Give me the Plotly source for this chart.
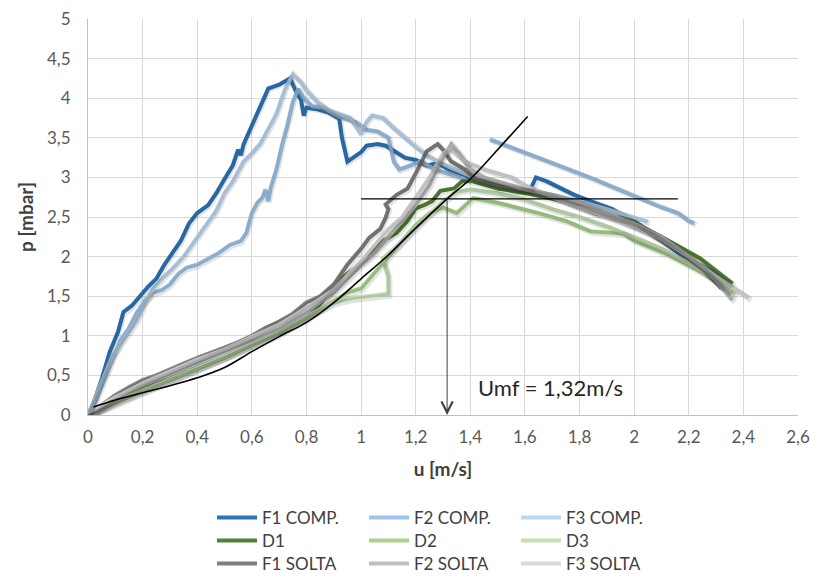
import plotly.graph_objects as go

# ---------------- data ----------------
f1c_x = [0, 0.02, 0.05, 0.08, 0.11, 0.13, 0.16, 0.19, 0.22, 0.25, 0.28, 0.31, 0.34, 0.37, 0.40, 0.44, 0.47, 0.50,
         0.53, 0.55, 0.56, 0.57, 0.60, 0.63, 0.66, 0.70, 0.74, 0.76, 0.78, 0.79, 0.80, 0.84, 0.88, 0.92, 0.93, 0.95,
         0.97, 1.00, 1.02, 1.06, 1.09, 1.13, 1.16, 1.20, 1.24, 1.28, 1.32, 1.36, 1.42, 1.50, 1.57, 1.62, 1.64, 1.68,
         1.72, 1.78, 1.84, 1.88, 1.92, 1.96, 2.00, 2.06, 2.12, 2.18, 2.24, 2.30, 2.35]
f1c_y = [0, 0.15, 0.45, 0.80, 1.05, 1.30, 1.38, 1.50, 1.62, 1.72, 1.90, 2.05, 2.20, 2.42, 2.55, 2.65, 2.80, 2.98,
         3.15, 3.35, 3.28, 3.42, 3.65, 3.90, 4.12, 4.17, 4.25, 4.10, 3.98, 3.78, 3.88, 3.86, 3.82, 3.74, 3.50, 3.20,
         3.25, 3.32, 3.40, 3.42, 3.40, 3.32, 3.25, 3.22, 3.15, 3.18, 3.10, 3.05, 2.96, 2.90, 2.83, 2.85, 3.00, 2.95,
         2.88, 2.78, 2.70, 2.65, 2.60, 2.52, 2.45, 2.30, 2.15, 2.00, 1.90, 1.78, 1.65]

f2c_x = [0, 0.03, 0.06, 0.09, 0.12, 0.15, 0.18, 0.21, 0.24, 0.27, 0.30, 0.33, 0.36, 0.40, 0.44, 0.48, 0.52, 0.56,
         0.58, 0.60, 0.62, 0.64, 0.65, 0.66, 0.67, 0.69, 0.71, 0.73, 0.75, 0.77, 0.79, 0.82, 0.86, 0.90, 0.94, 0.98,
         1.02, 1.06, 1.10, 1.12, 1.14, 1.18, 1.22, 1.27, 1.32, 1.38, None,
         1.47, 1.55, 1.70, 1.85, 2.00, 2.10, 2.16, 2.20, 2.22]
f2c_y = [0, 0.20, 0.45, 0.70, 0.95, 1.10, 1.30, 1.45, 1.55, 1.58, 1.65, 1.78, 1.86, 1.90, 1.97, 2.05, 2.15, 2.20,
         2.30, 2.55, 2.68, 2.75, 2.85, 2.70, 2.88, 3.10, 3.40, 3.65, 3.95, 4.12, 4.00, 3.90, 3.88, 3.80, 3.74, 3.70,
         3.60, 3.58, 3.50, 3.20, 3.10, 3.15, 3.20, 3.10, 3.05, 2.98, None,
         3.48, 3.38, 3.18, 2.98, 2.77, 2.62, 2.55, 2.45, 2.42]

f3c_x = [0, 0.03, 0.06, 0.09, 0.12, 0.15, 0.18, 0.21, 0.24, 0.27, 0.31, 0.35, 0.39, 0.43, 0.47, 0.50, 0.53, 0.57,
         0.60, 0.63, 0.66, 0.69, 0.72, 0.75, 0.78, 0.80, 0.84, 0.88, 0.92, 0.96, 1.00, 1.02, 1.04, 1.08, 1.12, 1.16,
         1.20, 1.24, 1.28, 1.33, 1.40, 1.50, 1.60, 1.70, 1.80, 1.90, 2.00, 2.05]
f3c_y = [0, 0.25, 0.50, 0.75, 0.90, 1.05, 1.20, 1.42, 1.60, 1.72, 1.85, 2.00, 2.20, 2.40, 2.58, 2.80, 2.95, 3.20,
         3.30, 3.42, 3.60, 3.80, 4.10, 4.30, 4.20, 4.10, 3.95, 3.85, 3.80, 3.75, 3.55, 3.70, 3.78, 3.75, 3.62, 3.50,
         3.38, 3.28, 3.20, 3.12, 3.02, 2.92, 2.84, 2.78, 2.70, 2.60, 2.50, 2.44]

d1_x = [0, 0.05, 0.10, 0.20, 0.30, 0.40, 0.50, 0.60, 0.70, 0.80, 0.85, 0.93, 1.02, 1.08, 1.13, 1.17, 1.20, 1.23,
        1.26, 1.29, 1.34, 1.37, 1.41, 1.50, 1.62, 1.74, 1.86, 1.99, 2.10, 2.24, 2.36]
d1_y = [0, 0.10, 0.18, 0.33, 0.46, 0.60, 0.74, 0.90, 1.05, 1.25, 1.40, 1.73, 1.98, 2.20, 2.30, 2.45, 2.61, 2.65,
        2.70, 2.83, 2.86, 2.95, 2.95, 2.86, 2.79, 2.70, 2.54, 2.45, 2.25, 1.98, 1.66]

d2_x = [0, 0.05, 0.10, 0.20, 0.30, 0.40, 0.50, 0.60, 0.70, 0.80, 0.90, 0.95, 1.00, 1.05, 1.10, 1.15, 1.20, 1.25,
        1.30, 1.35, 1.41, 1.50, 1.60, 1.66, 1.75, 1.84, 1.96, 2.00, 2.12, 2.25, 2.35]
d2_y = [0, 0.08, 0.16, 0.30, 0.44, 0.58, 0.72, 0.88, 1.03, 1.22, 1.45, 1.55, 1.60, 1.80, 2.00, 2.20, 2.40, 2.55,
        2.62, 2.55, 2.74, 2.68, 2.60, 2.54, 2.45, 2.32, 2.29, 2.20, 2.03, 1.80, 1.55]

d3_x = [0, 0.05, 0.10, 0.20, 0.30, 0.40, 0.50, 0.60, 0.70, 0.80, 0.90, 0.97, 1.03, 1.10, 1.10, 1.08, 1.12, 1.18,
        1.24, 1.30, 1.35, 1.40, 1.50, 1.60, 1.70, 1.80, 1.90, 2.00, 2.10, 2.20, 2.30, 2.37]
d3_y = [0, 0.09, 0.17, 0.31, 0.45, 0.60, 0.74, 0.90, 1.06, 1.25, 1.42, 1.48, 1.50, 1.53, 1.75, 1.98, 2.10, 2.30,
        2.50, 2.70, 2.82, 2.85, 2.80, 2.72, 2.60, 2.50, 2.38, 2.25, 2.10, 1.92, 1.70, 1.52]

f1s_x = [0, 0.05, 0.10, 0.15, 0.20, 0.25, 0.30, 0.35, 0.40, 0.45, 0.50, 0.55, 0.60, 0.65, 0.70, 0.75, 0.80, 0.85,
         0.90, 0.95, 1.00, 1.03, 1.07, 1.09, 1.10, 1.09, 1.13, 1.17, 1.20, 1.24, 1.28, 1.30, 1.33, 1.38, 1.42, 1.50,
         1.62, 1.74, 1.86, 1.95, 2.05, 2.15, 2.25, 2.32]
f1s_y = [0, 0.12, 0.25, 0.35, 0.44, 0.50, 0.58, 0.65, 0.72, 0.78, 0.85, 0.92, 1.00, 1.10, 1.18, 1.28, 1.42, 1.50,
         1.65, 1.90, 2.10, 2.24, 2.35, 2.49, 2.60, 2.66, 2.78, 2.86, 3.05, 3.33, 3.42, 3.35, 3.20, 3.10, 2.98, 2.90,
         2.83, 2.70, 2.58, 2.45, 2.30, 2.10, 1.85, 1.60]

f2s_x = [0, 0.05, 0.10, 0.15, 0.20, 0.30, 0.40, 0.50, 0.60, 0.70, 0.80, 0.90, 0.95, 1.00, 1.05, 1.10, 1.15, 1.20,
         1.25, 1.29, 1.33, 1.36, 1.40, 1.45, 1.50, 1.60, 1.70, 1.80, 1.90, 2.00, 2.10, 2.20, 2.30, 2.36]
f2s_y = [0, 0.10, 0.20, 0.30, 0.38, 0.52, 0.66, 0.80, 0.95, 1.10, 1.30, 1.55, 1.72, 1.90, 2.05, 2.25, 2.45, 2.65,
         2.90, 3.20, 3.42, 3.30, 3.10, 3.00, 2.95, 2.85, 2.78, 2.68, 2.55, 2.42, 2.25, 2.00, 1.70, 1.45]

f3s_x = [0, 0.05, 0.10, 0.20, 0.30, 0.40, 0.50, 0.60, 0.70, 0.80, 0.90, 1.00, 1.05, 1.10, 1.15, 1.20, 1.25, 1.30,
         1.33, 1.38, 1.45, 1.50, 1.55, 1.60, 1.70, 1.80, 1.90, 2.00, 2.10, 2.20, 2.30, 2.42]
f3s_y = [0, 0.12, 0.22, 0.40, 0.55, 0.70, 0.83, 0.98, 1.14, 1.35, 1.58, 1.95, 2.15, 2.35, 2.50, 2.75, 3.00, 3.30,
         3.35, 3.20, 3.10, 3.05, 3.00, 2.90, 2.75, 2.62, 2.50, 2.38, 2.22, 2.00, 1.75, 1.48]

fit_x = [0.02, 0.10, 0.20, 0.30, 0.40, 0.50, 0.60, 0.70, 0.80, 0.90, 1.00, 1.10, 1.20, 1.315, 1.40, 1.50, 1.61]
fit_y = [0.10, 0.19, 0.28, 0.37, 0.47, 0.60, 0.80, 0.99, 1.17, 1.42, 1.72, 2.02, 2.36, 2.73, 2.98, 3.35, 3.77]

umf = 1.315
p_mf = 2.73
hline_x = [1.0, 2.16]
umf_label = "Umf = 1,32m/s"

series = [
    ("F1 COMP.", f1c_x, f1c_y, "#2E75B6", "legend"),
    ("F2 COMP.", f2c_x, f2c_y, "#9DC3E6", "legend"),
    ("F3 COMP.", f3c_x, f3c_y, "#BDD7EE", "legend"),
    ("D1", d1_x, d1_y, "#548235", "legend2"),
    ("D2", d2_x, d2_y, "#A9D18E", "legend2"),
    ("D3", d3_x, d3_y, "#C5E0B4", "legend2"),
    ("F1 SOLTA", f1s_x, f1s_y, "#7F7F7F", "legend3"),
    ("F2 SOLTA", f2s_x, f2s_y, "#BFBFBF", "legend3"),
    ("F3 SOLTA", f3s_x, f3s_y, "#D9D9D9", "legend3"),
]

x_ticks = [0, 0.2, 0.4, 0.6, 0.8, 1, 1.2, 1.4, 1.6, 1.8, 2, 2.2, 2.4, 2.6]
y_ticks = [0, 0.5, 1, 1.5, 2, 2.5, 3, 3.5, 4, 4.5, 5]

# ---------------- figure ----------------
# the page body adds an 8px offset, so figure coordinates = window coordinates - 8
W, H = 821, 588
ML, MR, MT, MB = 80, 31, 11, 181
PW, PH = W - ML - MR, H - MT - MB
BOTTOM = H - MB   # figure y of the x axis
dx = 2.5 / PW     # shadow offset (fraction of plot)
dy = 3.0 / PH
XMAX, YMAX = 2.6, 5.0

fig = go.Figure()

# shadows (drawn on offset overlay axes)
for name, xs, ys, col, lg in series:
    fig.add_trace(go.Scatter(x=xs, y=ys, mode="lines", xaxis="x2", yaxis="y2",
                             line=dict(color="rgba(0,0,0,0.11)", width=6),
                             showlegend=False, hoverinfo="skip", connectgaps=False))

for name, xs, ys, col, lg in series:
    fig.add_trace(go.Scatter(x=xs, y=ys, mode="lines", name=name, legend=lg,
                             line=dict(color=col, width=4), connectgaps=False))

fig.add_trace(go.Scatter(x=fit_x, y=fit_y, mode="lines", showlegend=False,
                         line=dict(color="#000000", width=1.6, shape="spline")))
fig.add_trace(go.Scatter(x=hline_x, y=[p_mf, p_mf], mode="lines", showlegend=False,
                         line=dict(color="#000000", width=1.2)))

fig.add_annotation(x=umf, y=0, ax=umf, ay=p_mf, xref="x", yref="y", axref="x", ayref="y",
                   showarrow=True, arrowhead=5, arrowsize=2.2, arrowwidth=1, arrowcolor="#404040", text="")
fig.add_annotation(x=1.42, y=0.35, xref="x", yref="y", text=umf_label, showarrow=False,
                   xanchor="left", yanchor="middle", font=dict(size=22, color="#262626"))

axis_font = dict(size=17, color="#595959")


def legend_row(center_fig_px):
    return dict(orientation="h", x=(204 - ML) / PW, xanchor="left", y=-(center_fig_px - BOTTOM) / PH,
                yanchor="middle", entrywidth=97, entrywidthmode="pixels", itemwidth=40,
                font=dict(size=17, color="#404040"), bgcolor="rgba(0,0,0,0)", tracegroupgap=0)


fig.update_layout(
    width=W, height=H,
    margin=dict(l=ML, r=MR, t=MT, b=MB),
    paper_bgcolor="white", plot_bgcolor="white",
    separators=", ",
    font=dict(family="Lato, Open Sans, sans-serif", color="#404040"),
    xaxis=dict(range=[0, XMAX], tickvals=x_ticks, showgrid=True, gridcolor="#D9D9D9", gridwidth=1,
               showline=True, linecolor="#BFBFBF", linewidth=1, zeroline=False, ticks="",
               tickfont=axis_font, ticklabelstandoff=7, automargin=False, ticklabeloverflow="allow",
               title=dict(text="<b>u [m/s]</b>", font=dict(size=19, color="#404040"), standoff=16)),
    yaxis=dict(range=[0, YMAX], tickvals=y_ticks, showgrid=True, gridcolor="#D9D9D9", gridwidth=1,
               showline=True, linecolor="#BFBFBF", linewidth=1, zeroline=False, ticks="",
               tickfont=axis_font, ticklabelstandoff=13, automargin=False, ticklabeloverflow="allow",
               title=dict(text="<b>p [mbar]</b>", font=dict(size=19, color="#404040"), standoff=8)),
    xaxis2=dict(domain=[dx, 1], range=[0, XMAX * (1 - dx)], overlaying="x", visible=False, anchor="y2"),
    yaxis2=dict(domain=[0, 1 - dy], range=[YMAX * dy, YMAX], overlaying="y", visible=False, anchor="x2"),
    legend=legend_row(510),
    legend2=legend_row(533),
    legend3=legend_row(556),
    showlegend=True,
)

fig.write_html("out.html")
